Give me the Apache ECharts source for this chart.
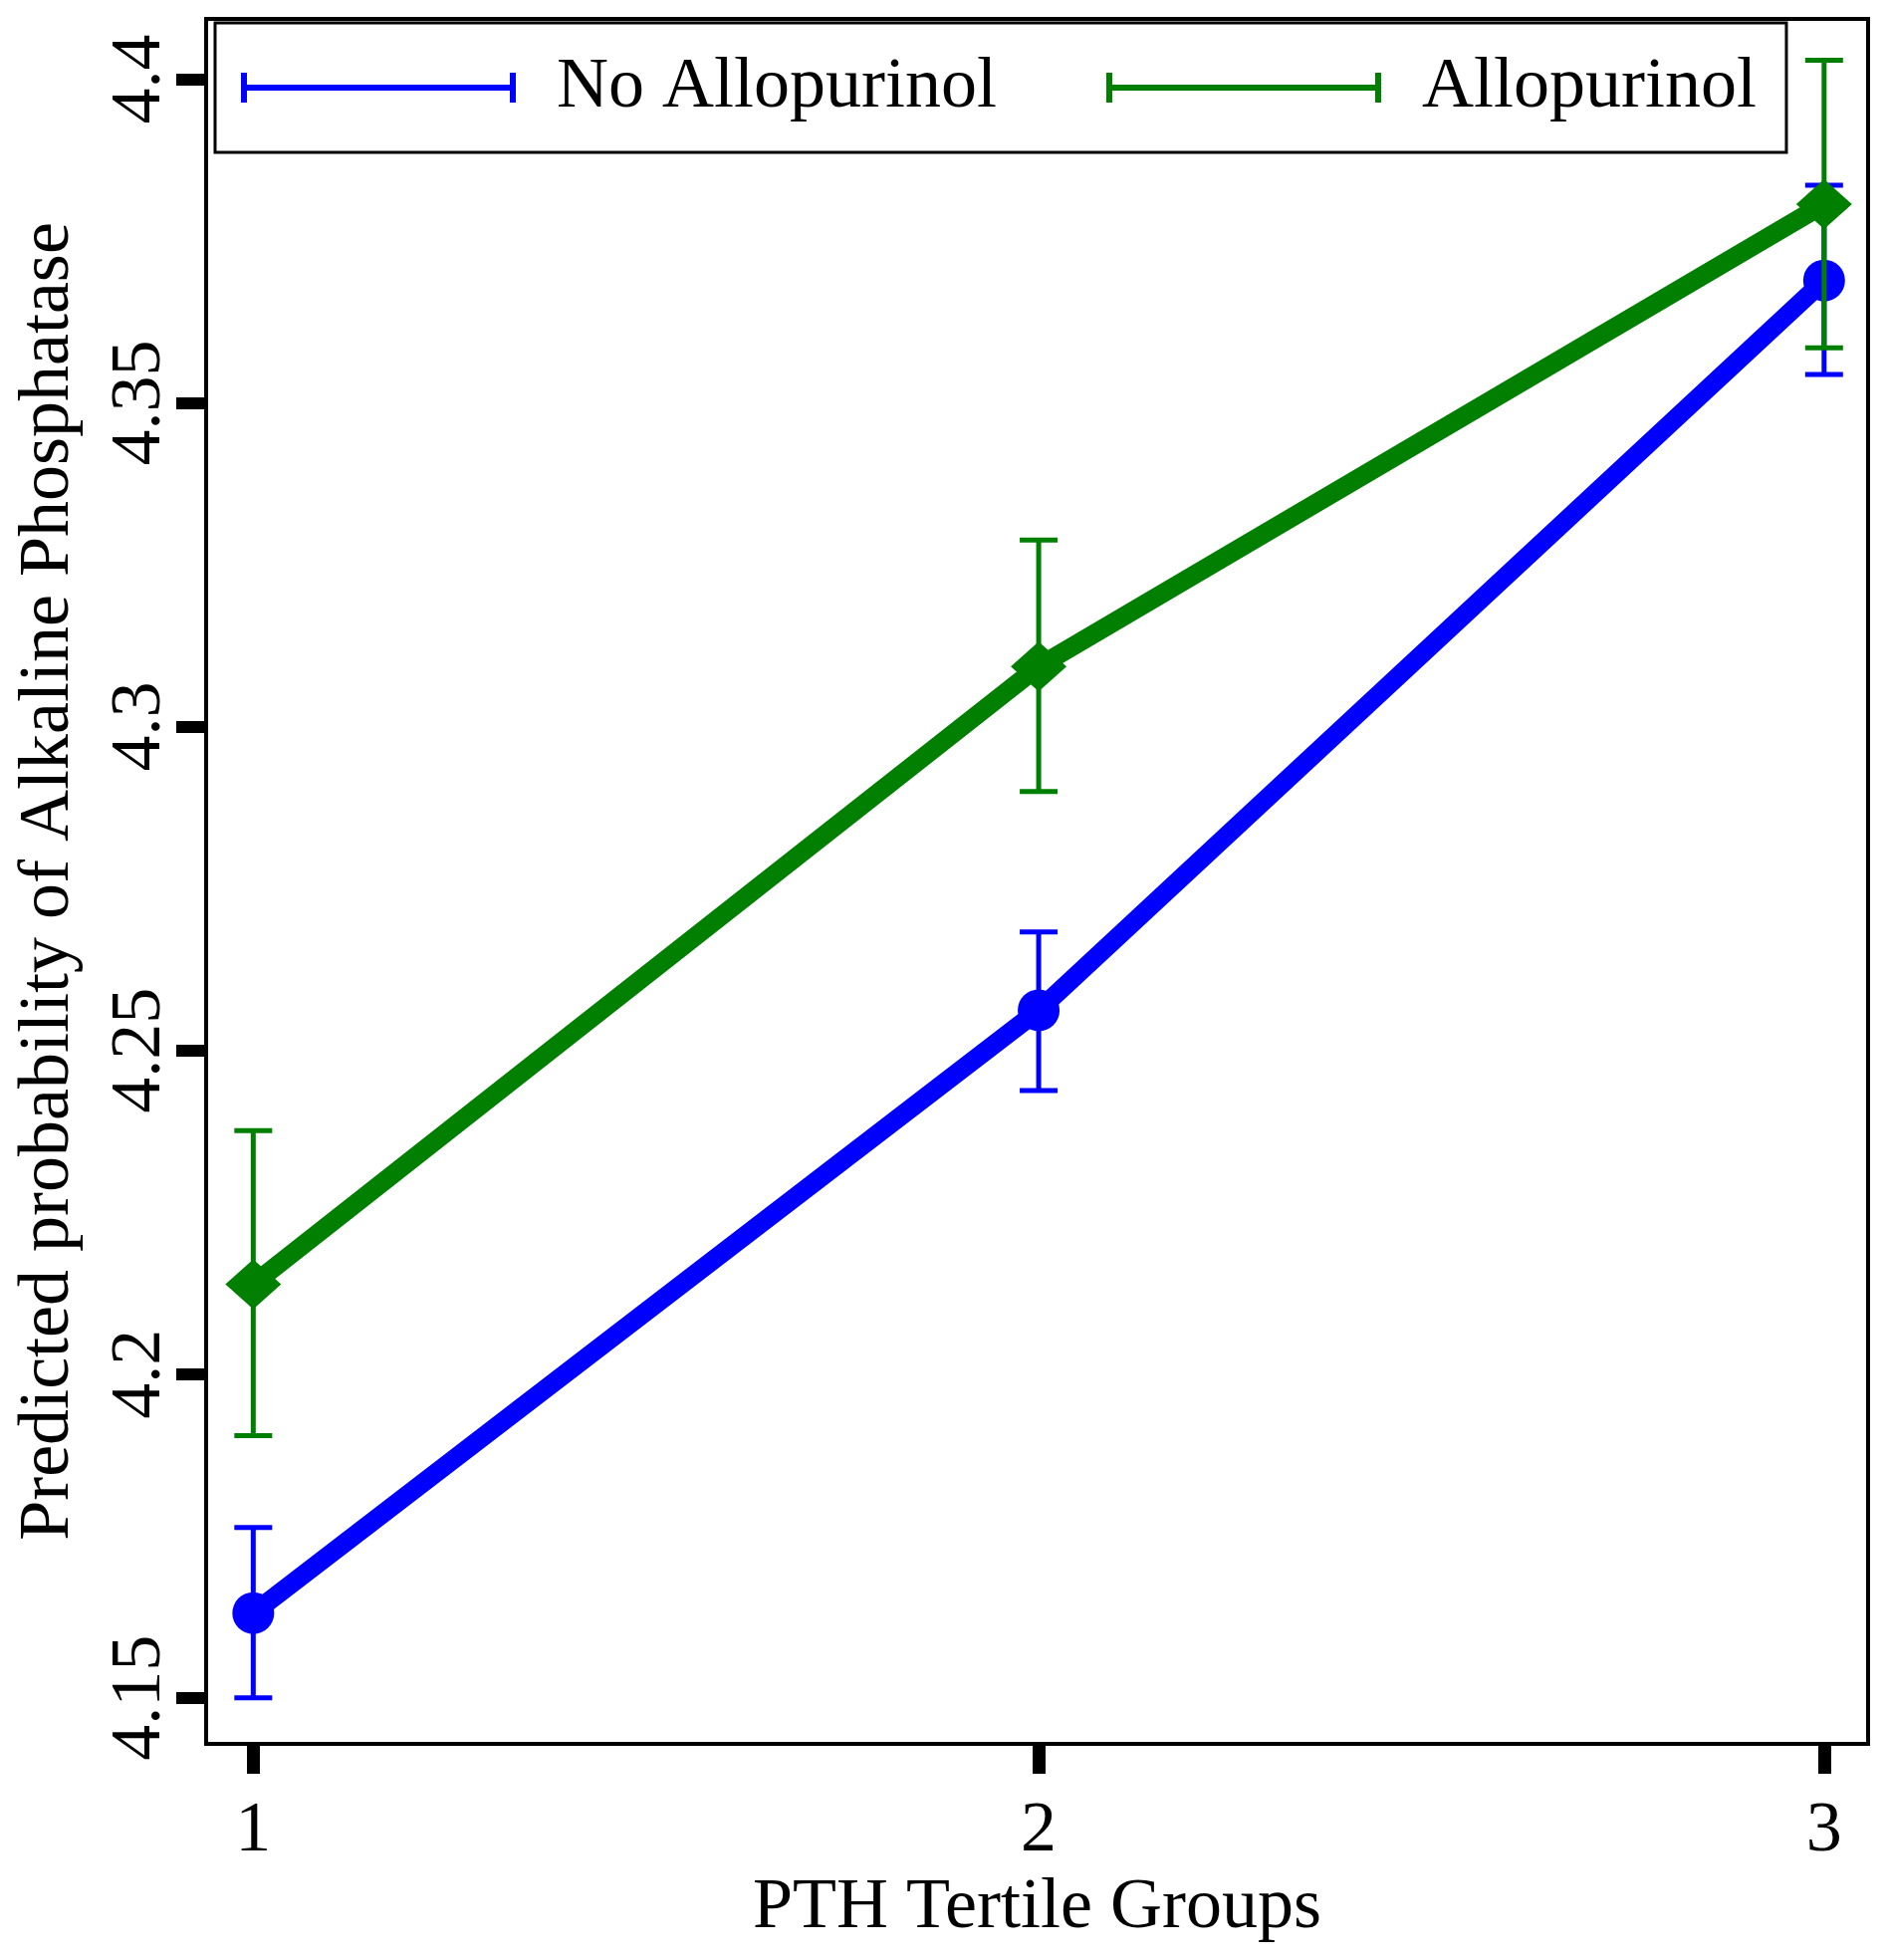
<!DOCTYPE html>
<html>
<head>
<meta charset="utf-8">
<script src="https://cdn.jsdelivr.net/npm/echarts@6/dist/echarts.min.js"></script>
<style>
  html, body { margin: 0; padding: 0; background: #fff; }
  #chart { width: 1895px; height: 1968px; }
</style>
</head>
<body>
<div id="chart"></div>
<script>
// PTH tertile groups on the x axis
const groups = [1, 2, 3];
const yTicks = [4.15, 4.2, 4.25, 4.3, 4.35, 4.4];

// predicted values and confidence limits
const noAlloMean = [4.1631, 4.2562, 4.3689];
const noAlloLow = [4.1500, 4.2438, 4.3544];
const noAlloHigh = [4.1763, 4.2683, 4.3836];

const alloMean = [4.2139, 4.3093, 4.3807];
const alloLow = [4.1905, 4.2900, 4.3585];
const alloHigh = [4.2376, 4.3288, 4.4029];

const BLUE = '#0000ff';
const GREEN = '#007f00';
const FONT = '"Liberation Serif", "Times New Roman", serif';

const chart = echarts.init(document.getElementById('chart'));

// error bars as custom series: vertical line + two caps
const capHalf = 19;
function errorBarItem(color) {
    return (params, api) => {
        const x = api.value(0);
        const lo = api.coord([x, api.value(1)]);
        const hi = api.coord([x, api.value(2)]);
        const style = { stroke: color, lineWidth: 5 };
        return {
            type: 'group',
            children: [
                { type: 'line', shape: { x1: lo[0], y1: lo[1], x2: hi[0], y2: hi[1] }, style: style },
                { type: 'line', shape: { x1: lo[0] - capHalf, y1: lo[1], x2: lo[0] + capHalf, y2: lo[1] }, style: style },
                { type: 'line', shape: { x1: hi[0] - capHalf, y1: hi[1], x2: hi[0] + capHalf, y2: hi[1] }, style: style },
            ],
        };
    };
}

const legendIcon = 'path://M0,0h6v30h-6z M0,12h276v6h-276z M270,0h6v30h-6z';

const option = {
    animation: false,
    backgroundColor: '#fff',
    grid: {
        left: 207,
        right: 19,
        top: 19,
        bottom: 217,
        show: true,
        borderColor: '#000',
        borderWidth: 4,
        containLabel: false,
    },
    legend: {
        left: 216,
        top: 23,
        padding: [29, 30, 29, 26],
        itemGap: 110,
        itemWidth: 276,
        itemHeight: 30,
        borderColor: '#000',
        borderWidth: 3,
        backgroundColor: '#fff',
        formatter: name => '  ' + name,
        textStyle: { fontFamily: FONT, fontSize: 72, color: '#000' },
        data: [
            { name: 'No Allopurinol', icon: legendIcon, itemStyle: { color: BLUE } },
            { name: 'Allopurinol', icon: legendIcon, itemStyle: { color: GREEN } },
        ],
    },
    xAxis: {
        type: 'value',
        min: 0.94,
        max: 3.056,
        name: 'PTH Tertile Groups',
        nameLocation: 'middle',
        nameGap: 125,
        nameTextStyle: { fontFamily: FONT, fontSize: 72, color: '#000' },
        axisLine: { show: false },
        splitLine: { show: false },
        axisTick: {
            show: true,
            length: 30,
            customValues: groups,
            lineStyle: { color: '#000', width: 13 },
        },
        axisLabel: {
            customValues: groups,
            margin: 52,
            fontFamily: FONT,
            fontSize: 72,
            color: '#000',
        },
    },
    yAxis: {
        type: 'value',
        min: 4.1429,
        max: 4.4093,
        name: 'Predicted probability of Alkaline Phosphatase',
        nameLocation: 'middle',
        nameGap: 122,
        nameTextStyle: { fontFamily: FONT, fontSize: 72, color: '#000' },
        axisLine: { show: false },
        splitLine: { show: false },
        axisTick: {
            show: true,
            length: 30,
            customValues: yTicks,
            lineStyle: { color: '#000', width: 12 },
        },
        axisLabel: {
            customValues: yTicks,
            rotate: 90,
            margin: 30,
            fontFamily: FONT,
            fontSize: 72,
            color: '#000',
        },
    },
    series: [
        {
            name: 'No Allopurinol',
            type: 'custom',
            z: 2,
            renderItem: errorBarItem(BLUE),
            encode: { x: 0, y: [1, 2] },
            data: groups.map((g, i) => [g, noAlloLow[i], noAlloHigh[i]]),
        },
        {
            name: 'No Allopurinol',
            type: 'line',
            z: 3,
            symbol: 'circle',
            symbolSize: 42,
            lineStyle: { color: BLUE, width: 19 },
            itemStyle: { color: BLUE },
            data: groups.map((g, i) => [g, noAlloMean[i]]),
        },
        {
            name: 'Allopurinol',
            type: 'custom',
            z: 4,
            renderItem: errorBarItem(GREEN),
            encode: { x: 0, y: [1, 2] },
            data: groups.map((g, i) => [g, alloLow[i], alloHigh[i]]),
        },
        {
            name: 'Allopurinol',
            type: 'line',
            z: 5,
            symbol: 'diamond',
            symbolSize: [56, 50],
            lineStyle: { color: GREEN, width: 19 },
            itemStyle: { color: GREEN },
            data: groups.map((g, i) => [g, alloMean[i]]),
        },
    ],
};

chart.setOption(option);
</script>
</body>
</html>
